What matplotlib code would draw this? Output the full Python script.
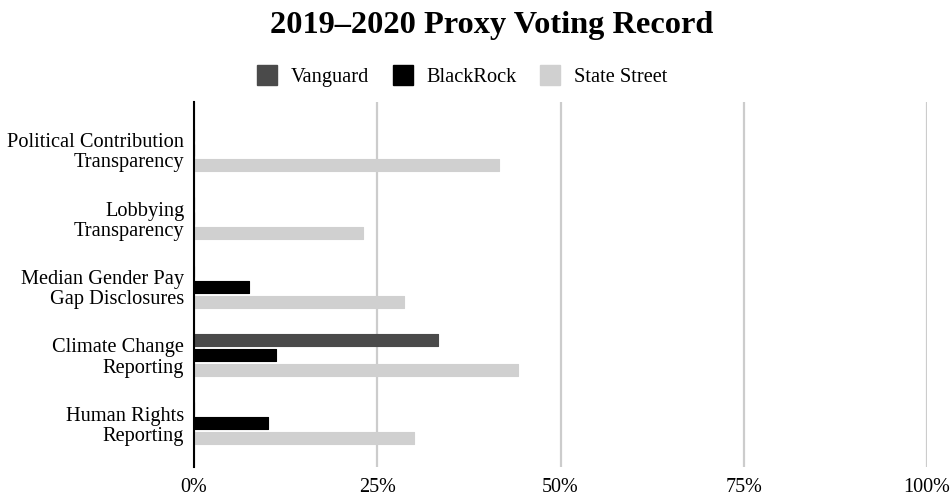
import numpy as np
import matplotlib
matplotlib.use("Agg")
import matplotlib.pyplot as plt
from matplotlib.lines import Line2D

categories = ["Political Contribution\nTransparency",
              "Lobbying\nTransparency",
              "Median Gender Pay\nGap Disclosures",
              "Climate Change\nReporting",
              "Human Rights\nReporting"]
series = ["Vanguard", "BlackRock", "State Street"]
vanguard = [0, 0, 0, 33.3, 0]
blackrock = [0, 0, 7.5, 11.2, 10.1]
state_street = [41.6, 23.0, 28.6, 44.2, 30.0]
colors = ["#4a4a4a", "#000000", "#d0d0d0"]
xticks = [0, 25, 50, 75, 100]

plt.rcParams['font.family'] = ['Liberation Serif', 'DejaVu Serif']

fig = plt.figure(figsize=(9.5, 4.97), dpi=100)
ax = fig.add_axes([0.2042, 0.0604, 0.7716, 0.7344])

y = np.arange(len(categories))
h = 0.175
off = 0.22
for k, (vals, c) in enumerate(zip([vanguard, blackrock, state_street], colors)):
    ax.barh(y + (k - 1) * off, vals, height=h, color=c, edgecolor=c,
            linewidth=0.8, joinstyle='round', zorder=3)

ax.set_xlim(0, 100)
ax.set_ylim(4.64, -0.70)
ax.set_xticks(xticks)
ax.set_xticklabels([f"{t}%" for t in xticks], fontsize=14.5)
ax.set_yticks(y)
ax.set_yticklabels(categories, fontsize=14.7, linespacing=1.08)
ax.tick_params(length=0)
ax.tick_params(axis='y', pad=7)
ax.tick_params(axis='x', pad=8)
ax.grid(axis='x', color='#cccccc', linewidth=1.6, zorder=0)
for s in ['top', 'right', 'bottom']:
    ax.spines[s].set_visible(False)
ax.spines['left'].set_linewidth(1.5)
ax.spines['left'].set_zorder(4)

fig.suptitle("2019–2020 Proxy Voting Record", fontsize=23.3, fontweight='bold',
             x=0.518, y=0.978)

handles = [Line2D([], [], marker='s', linestyle='none', markersize=15,
                  markerfacecolor=c, markeredgecolor=c) for c in colors]
fig.legend(handles, series, loc='center', bbox_to_anchor=(0.486, 0.845),
           ncol=3, frameon=False, fontsize=14.7, handletextpad=0.6,
           columnspacing=1.1, handlelength=1.1)

fig.savefig("out.png", dpi=100)
